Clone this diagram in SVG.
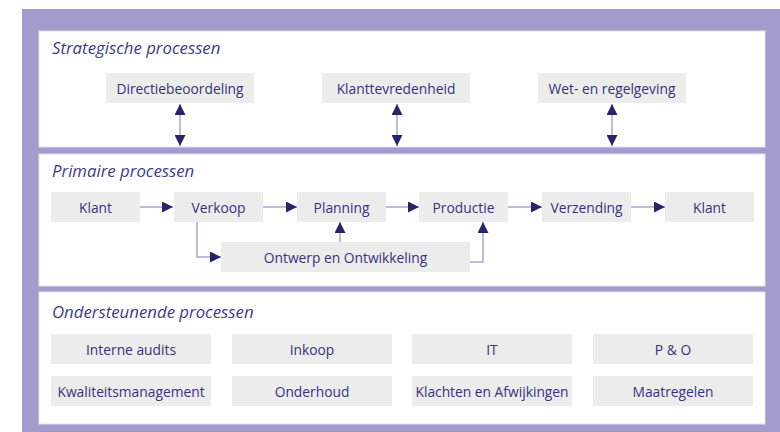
<svg xmlns="http://www.w3.org/2000/svg" width="780" height="432" viewBox="0 0 780 432">
<defs>
<style>
.panel{fill:#ffffff;stroke:#e4e1f1;stroke-width:1}
.box{fill:#ececec}
.t{font-family:"Open Sans","Noto Sans","DejaVu Sans",sans-serif;font-size:13.8px;fill:#36337e;text-anchor:middle;dominant-baseline:central}
.h{font-family:"Open Sans","Noto Sans","DejaVu Sans",sans-serif;font-size:16.8px;font-style:italic;fill:#3f3c88}
.c{fill:none;stroke:#a9a4d2;stroke-width:1.5}
</style>
<marker id="ah" viewBox="0 0 10 10" refX="10" refY="5" markerWidth="14" markerHeight="11" markerUnits="userSpaceOnUse" orient="auto-start-reverse">
<path d="M0,0 L10,5 L0,10 Z" fill="#27246e"/>
</marker>
</defs>
<rect x="22" y="9" width="758" height="423" fill="#a39bcb"/>
<rect class="panel" x="39" y="31" width="726" height="116"/>
<rect class="panel" x="39" y="154" width="726" height="132"/>
<rect class="panel" x="39" y="292" width="726" height="132"/>
<text class="h" x="52" y="54">Strategische processen</text>
<text class="h" x="52" y="177">Primaire processen</text>
<text class="h" x="52" y="318">Ondersteunende processen</text>
<g id="connectors">
<line class="c" x1="180" y1="104" x2="180" y2="146" marker-start="url(#ah)" marker-end="url(#ah)"/>
<line class="c" x1="397" y1="104" x2="397" y2="146" marker-start="url(#ah)" marker-end="url(#ah)"/>
<line class="c" x1="612" y1="104" x2="612" y2="146" marker-start="url(#ah)" marker-end="url(#ah)"/>
<line class="c" x1="140" y1="207" x2="173" y2="207" marker-end="url(#ah)"/>
<line class="c" x1="263" y1="207" x2="297" y2="207" marker-end="url(#ah)"/>
<line class="c" x1="386" y1="207" x2="419" y2="207" marker-end="url(#ah)"/>
<line class="c" x1="508" y1="207" x2="542" y2="207" marker-end="url(#ah)"/>
<line class="c" x1="631" y1="207" x2="665" y2="207" marker-end="url(#ah)"/>
<polyline class="c" points="197,222 197,257 221,257" marker-end="url(#ah)"/>
<line class="c" x1="340" y1="242" x2="340" y2="222" marker-end="url(#ah)"/>
<polyline class="c" points="470,262 483,262 483,222" marker-end="url(#ah)"/>
</g>
<g id="directiebeoordeling"><rect class="box" x="106" y="73" width="148" height="30"/><text class="t" x="180" y="88">Directiebeoordeling</text></g>
<g id="klanttevredenheid"><rect class="box" x="322" y="73" width="148" height="30"/><text class="t" x="396" y="88">Klanttevredenheid</text></g>
<g id="wetgeving"><rect class="box" x="538" y="73" width="148" height="30"/><text class="t" x="612" y="88">Wet- en regelgeving</text></g>
<g id="klant1"><rect class="box" x="51" y="192" width="89" height="30"/><text class="t" x="95.5" y="207">Klant</text></g>
<g id="verkoop"><rect class="box" x="174" y="192" width="89" height="30"/><text class="t" x="218.5" y="207">Verkoop</text></g>
<g id="planning"><rect class="box" x="297" y="192" width="89" height="30"/><text class="t" x="341.5" y="207">Planning</text></g>
<g id="productie"><rect class="box" x="419" y="192" width="89" height="30"/><text class="t" x="463.5" y="207">Productie</text></g>
<g id="verzending"><rect class="box" x="542" y="192" width="89" height="30"/><text class="t" x="586.5" y="207">Verzending</text></g>
<g id="klant2"><rect class="box" x="665" y="192" width="89" height="30"/><text class="t" x="709.5" y="207">Klant</text></g>
<g id="ontwerp"><rect class="box" x="221" y="242" width="249" height="30"/><text class="t" x="345.5" y="257">Ontwerp en Ontwikkeling</text></g>
<g id="audits"><rect class="box" x="51" y="334" width="160" height="30"/><text class="t" x="131" y="349">Interne audits</text></g>
<g id="inkoop"><rect class="box" x="232" y="334" width="160" height="30"/><text class="t" x="312" y="349">Inkoop</text></g>
<g id="it"><rect class="box" x="412" y="334" width="160" height="30"/><text class="t" x="492" y="349">IT</text></g>
<g id="po"><rect class="box" x="593" y="334" width="160" height="30"/><text class="t" x="673" y="349">P &amp; O</text></g>
<g id="kwaliteit"><rect class="box" x="51" y="376" width="160" height="30"/><text class="t" x="131" y="391">Kwaliteitsmanagement</text></g>
<g id="onderhoud"><rect class="box" x="232" y="376" width="160" height="30"/><text class="t" x="312" y="391">Onderhoud</text></g>
<g id="klachten"><rect class="box" x="412" y="376" width="160" height="30"/><text class="t" x="492" y="391">Klachten en Afwijkingen</text></g>
<g id="maatregelen"><rect class="box" x="593" y="376" width="160" height="30"/><text class="t" x="673" y="391">Maatregelen</text></g>
</svg>
